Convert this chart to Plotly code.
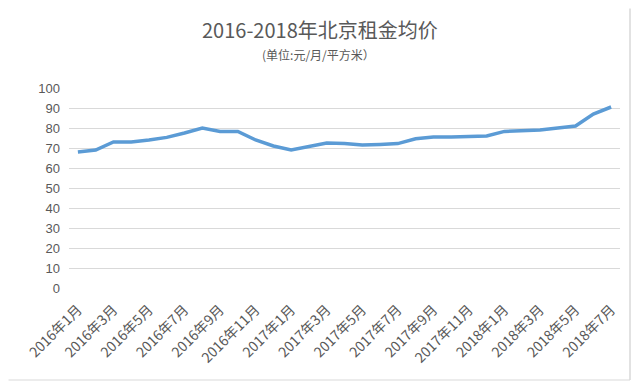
import plotly.graph_objects as go

months = [f"{y}年{m}月" for y, ms in [(2016, range(1, 13)), (2017, range(1, 13)), (2018, range(1, 8))] for m in ms]
rent = [68, 69, 73, 73, 74, 75.3, 77.5, 80, 78.3, 78.3, 74, 71, 69, 70.8, 72.5, 72.3,
        71.5, 71.8, 72.2, 74.6, 75.5, 75.5, 75.6, 76, 78.3, 78.6, 79, 80, 81, 87, 90.5]
tick_labels = months[::2]
y_ticks = list(range(0, 101, 10))

# page body has an 8px offset; compensate
OFF = 8
PL, PR, PT, PB = 69 - OFF, 620 - OFF, 88 - OFF, 288 - OFF
W, H = 640 - OFF, 385 - OFF
PW, PH = PR - PL, PB - PT


def px(x):
    return (x - OFF - PL) / PW


def py(y):
    return (PB - (y - OFF)) / PH


fig = go.Figure()
fig.add_trace(go.Scatter(x=months, y=rent, mode="lines",
                         line=dict(color="#5B9BD5", width=3.5, shape="linear"),
                         hoverinfo="x+y"))

font_cjk = "Noto Sans CJK SC, Liberation Sans, sans-serif"
fig.update_layout(
    width=W, height=H,
    margin=dict(l=PL, r=W - PR, t=PT, b=H - PB, autoexpand=False),
    paper_bgcolor="white", plot_bgcolor="white",
    showlegend=False,
    font=dict(family=font_cjk, color="#595959"),
    xaxis=dict(type="category", tickmode="array", tickvals=tick_labels, ticktext=tick_labels,
               tickangle=-45, showgrid=False, showline=False, zeroline=False, ticks="",
               automargin=False, ticklabelstandoff=10,
               tickfont=dict(size=14, color="#595959"), range=[-0.5, 30.5]),
    yaxis=dict(range=[0, 100], tickvals=y_ticks, showgrid=True, gridcolor="#D9D9D9", gridwidth=1,
               zeroline=False, showline=False, ticks="", ticklabelstandoff=8, automargin=False,
               tickfont=dict(size=13, color="#595959", family="Liberation Sans Narrow, Liberation Sans, sans-serif")),
    annotations=[
        dict(text="2016-2018年北京租金均价", xref="paper", yref="paper", x=px(320), y=py(30),
             showarrow=False, xanchor="center", yanchor="middle",
             font=dict(size=20, color="#595959", family=font_cjk)),
        dict(text="(单位:元/月/平方米）", xref="paper", yref="paper", x=px(318), y=py(54),
             showarrow=False, xanchor="center", yanchor="middle",
             font=dict(size=12, color="#595959", family=font_cjk)),
    ],
    shapes=[dict(type="line", xref="paper", yref="paper",
                 x0=px(630), x1=px(630), y0=py(380), y1=py(8.5),
                 line=dict(color="#D9D9D9", width=1.5), layer="above"),
            dict(type="line", xref="paper", yref="paper",
                 x0=px(8.5), x1=px(630), y0=py(380), y1=py(380),
                 line=dict(color="#D9D9D9", width=1), layer="below")],
)

fig.write_html("out.html")
